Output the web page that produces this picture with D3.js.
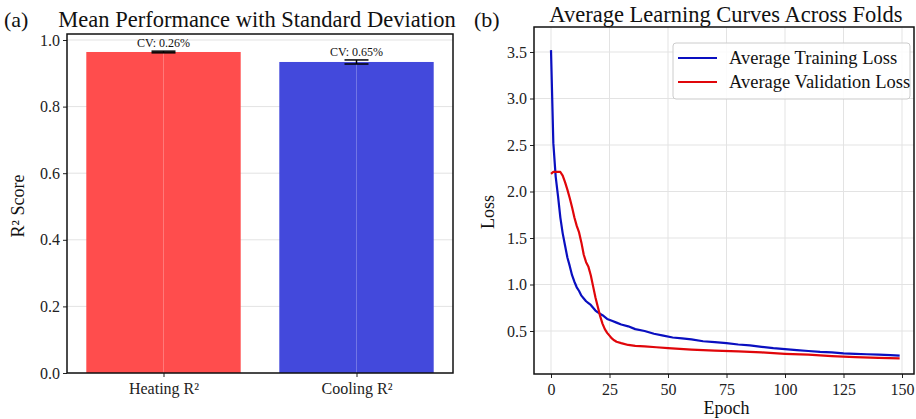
<!DOCTYPE html>
<meta charset="utf-8">
<style>
body { margin: 0; background: #fff; }
svg, svg text { font-family: "Liberation Serif", "Times New Roman", serif; }
.grid line { stroke: #e3e3e3; stroke-width: 1; }
.tick text { font-size: 16px; fill: #222; font-family: "Liberation Serif", "Times New Roman", serif; }
.tick line { stroke: #222; }
</style>
<body>
<script src="https://cdn.jsdelivr.net/npm/d3@7"></script>
<script>

var width = 916,
    height = 419;

// panel (a)
var categories = ["Heating R²", "Cooling R²"];
var meanR2 = [0.964, 0.934];
var stdR2 = [0.0025, 0.0061];
var cvLabels = ["CV: 0.26%", "CV: 0.65%"];
var barColors = ["#ff4d4d", "#4349dc"];
var r2Ticks = [0.0, 0.2, 0.4, 0.6, 0.8, 1.0];

// panel (b)
var trainEpochs = [0,1,2,3,4,5,6,7,8,9,10,11,12,13,14,15,16,17,18,19,20,22,24,26,28,30,33,36,40,44,48,52,56,60,65,70,75,80,85,90,95,100,105,110,115,120,125,130,135,140,145,149];
var trainLoss = [3.52,2.52,2.16,1.95,1.72,1.55,1.42,1.29,1.20,1.10,1.03,0.97,0.93,0.88,0.85,0.82,0.80,0.78,0.75,0.72,0.70,0.67,0.63,0.61,0.59,0.57,0.55,0.52,0.50,0.47,0.45,0.43,0.42,0.41,0.39,0.38,0.37,0.355,0.345,0.33,0.315,0.305,0.295,0.285,0.275,0.27,0.26,0.255,0.25,0.245,0.24,0.235];
var valEpochs = [0,1,2,3,4,5,6,7,8,9,10,11,12,13,14,15,16,17,18,19,20,21,22,23,24,25,26,27,28,30,33,36,40,45,50,60,70,80,90,100,110,120,130,140,149];
var valLoss = [2.19,2.21,2.21,2.21,2.21,2.17,2.10,2.02,1.93,1.83,1.72,1.63,1.56,1.45,1.32,1.24,1.19,1.10,0.98,0.86,0.76,0.66,0.58,0.52,0.48,0.45,0.42,0.40,0.385,0.37,0.35,0.34,0.335,0.325,0.315,0.30,0.29,0.28,0.27,0.255,0.245,0.23,0.22,0.21,0.205];
var epochTicks = [0, 25, 50, 75, 100, 125, 150];
var lossTicks = [0.5, 1.0, 1.5, 2.0, 2.5, 3.0, 3.5];
var seriesNames = ["Average Training Loss", "Average Validation Loss"];
var seriesColors = ["#0a0fc0", "#e0060a"];

var svg = d3.select("body").append("svg")
    .attr("width", width)
    .attr("height", height);

// ---------- panel (a) ----------
var a = { left: 67, right: 453, top: 34, bottom: 373 };

var xa = d3.scaleLinear().domain([-0.5, 1.5]).range([a.left, a.right]);
var ya = d3.scaleLinear().domain([0, 1.0]).range([a.bottom, 40]);

var ga = svg.append("g");

ga.append("g").attr("class", "grid")
  .selectAll("line.h").data(r2Ticks).enter().append("line")
    .attr("x1", a.left).attr("x2", a.right)
    .attr("y1", d => ya(d)).attr("y2", d => ya(d));

ga.selectAll("rect.bar").data(meanR2).enter().append("rect")
    .attr("class", "bar")
    .attr("x", (d, i) => xa(i - 0.4))
    .attr("width", xa(0.4) - xa(-0.4))
    .attr("y", d => ya(d))
    .attr("height", d => ya(0) - ya(d))
    .attr("fill", (d, i) => barColors[i]);

// vertical grid seen through the bars
ga.selectAll("line.vgrid").data(categories).enter().append("line")
    .attr("x1", (d, i) => xa(i)).attr("x2", (d, i) => xa(i))
    .attr("y1", a.top).attr("y2", a.bottom)
    .attr("stroke", "#fff").attr("stroke-opacity", 0.25);

// error bars
meanR2.forEach(function(m, i) {
  var cx = xa(i), lo = ya(m - stdR2[i]), hi = ya(m + stdR2[i]);
  ga.append("line").attr("x1", cx).attr("x2", cx).attr("y1", lo).attr("y2", hi)
    .attr("stroke", "#000").attr("stroke-width", 1.5);
  [lo, hi].forEach(function(y) {
    ga.append("line").attr("x1", cx - 12).attr("x2", cx + 12).attr("y1", y).attr("y2", y)
      .attr("stroke", "#000").attr("stroke-width", 1.5);
  });
  ga.append("text")
    .attr("x", cx).attr("y", hi - 4)
    .attr("text-anchor", "middle")
    .attr("font-size", 12)
    .attr("fill", "#111")
    .text(cvLabels[i]);
});

ga.append("g")
    .attr("transform", "translate(" + a.left + ",0)")
    .call(d3.axisLeft(ya).tickValues(r2Ticks).tickFormat(d3.format(".1f")).tickSize(4).tickSizeOuter(0))
    .call(g => g.select(".domain").remove());

ga.append("g")
    .attr("transform", "translate(0," + a.bottom + ")")
    .call(d3.axisBottom(xa).tickValues([0, 1]).tickFormat(i => categories[i]).tickSize(4).tickSizeOuter(0))
    .call(g => g.select(".domain").remove())
    .call(g => g.selectAll("text").attr("dy", "0.9em"));

ga.append("rect")
    .attr("x", a.left).attr("y", a.top)
    .attr("width", a.right - a.left).attr("height", a.bottom - a.top)
    .attr("fill", "none").attr("stroke", "#111").attr("stroke-width", 1.5);

ga.append("text")
    .attr("x", 18).attr("y", 206)
    .attr("transform", "rotate(-90,18,206)")
    .attr("text-anchor", "middle").attr("dy", "0.35em")
    .attr("font-size", 18).attr("fill", "#111")
    .text("R² Score");

ga.append("text").attr("x", 4).attr("y", 27).attr("font-size", 22).attr("fill", "#111").text("(a)");
ga.append("text")
    .attr("x", 257).attr("y", 27).attr("text-anchor", "middle")
    .attr("font-size", 22.5).attr("fill", "#111")
    .text("Mean Performance with Standard Deviation");

// ---------- panel (b) ----------
var b = { left: 534, right: 914, top: 27, bottom: 374 };

var xb = d3.scaleLinear().domain([0, 150]).range([551, 902]);
var yb = d3.scaleLinear().domain([0.5, 3.5]).range([331, 52]);

var gb = svg.append("g");

var gridB = gb.append("g").attr("class", "grid");
gridB.selectAll("line.h").data(lossTicks).enter().append("line")
    .attr("x1", b.left).attr("x2", b.right)
    .attr("y1", d => yb(d)).attr("y2", d => yb(d));
gridB.selectAll("line.v").data(epochTicks).enter().append("line")
    .attr("x1", d => xb(d)).attr("x2", d => xb(d))
    .attr("y1", b.top).attr("y2", b.bottom);

var line = d3.line()
    .x(d => xb(d[0]))
    .y(d => yb(d[1]));

var series = [
  d3.zip(trainEpochs, trainLoss),
  d3.zip(valEpochs, valLoss)
];

gb.selectAll("path.curve").data(series).enter().append("path")
    .attr("class", "curve")
    .attr("d", line)
    .attr("fill", "none")
    .attr("stroke", (d, i) => seriesColors[i])
    .attr("stroke-width", 2.2)
    .attr("stroke-linejoin", "round");

gb.append("g")
    .attr("transform", "translate(" + b.left + ",0)")
    .call(d3.axisLeft(yb).tickValues(lossTicks).tickFormat(d3.format(".1f")).tickSize(4).tickSizeOuter(0))
    .call(g => g.select(".domain").remove());

gb.append("g")
    .attr("transform", "translate(0," + b.bottom + ")")
    .call(d3.axisBottom(xb).tickValues(epochTicks).tickFormat(d3.format("d")).tickSize(4).tickSizeOuter(0))
    .call(g => g.select(".domain").remove())
    .call(g => g.selectAll("text").attr("dy", "0.9em"));

gb.append("rect")
    .attr("x", b.left).attr("y", b.top)
    .attr("width", b.right - b.left).attr("height", b.bottom - b.top)
    .attr("fill", "none").attr("stroke", "#111").attr("stroke-width", 1.5);

gb.append("text")
    .attr("x", 488).attr("y", 212)
    .attr("transform", "rotate(-90,488,212)")
    .attr("text-anchor", "middle").attr("dy", "0.35em")
    .attr("font-size", 18).attr("fill", "#111")
    .text("Loss");

gb.append("text")
    .attr("x", xb(75)).attr("y", 414).attr("text-anchor", "middle")
    .attr("font-size", 18).attr("fill", "#111")
    .text("Epoch");

gb.append("text").attr("x", 474).attr("y", 27).attr("font-size", 22).attr("fill", "#111").text("(b)");
gb.append("text")
    .attr("x", 726).attr("y", 22).attr("text-anchor", "middle")
    .attr("font-size", 22.5).attr("fill", "#111")
    .text("Average Learning Curves Across Folds");

// legend
var lg = gb.append("g").attr("transform", "translate(673,43)");
lg.append("rect")
    .attr("width", 237).attr("height", 56).attr("rx", 3)
    .attr("fill", "#fff").attr("fill-opacity", 0.85)
    .attr("stroke", "#ccc");
seriesNames.forEach(function(name, i) {
  var y = 15 + i * 24;
  lg.append("line").attr("x1", 5).attr("x2", 44).attr("y1", y).attr("y2", y)
    .attr("stroke", seriesColors[i]).attr("stroke-width", 2.2);
  lg.append("text").attr("x", 56).attr("y", y).attr("dy", "0.35em")
    .attr("font-size", 18.5).attr("fill", "#111").text(name);
});

</script>
